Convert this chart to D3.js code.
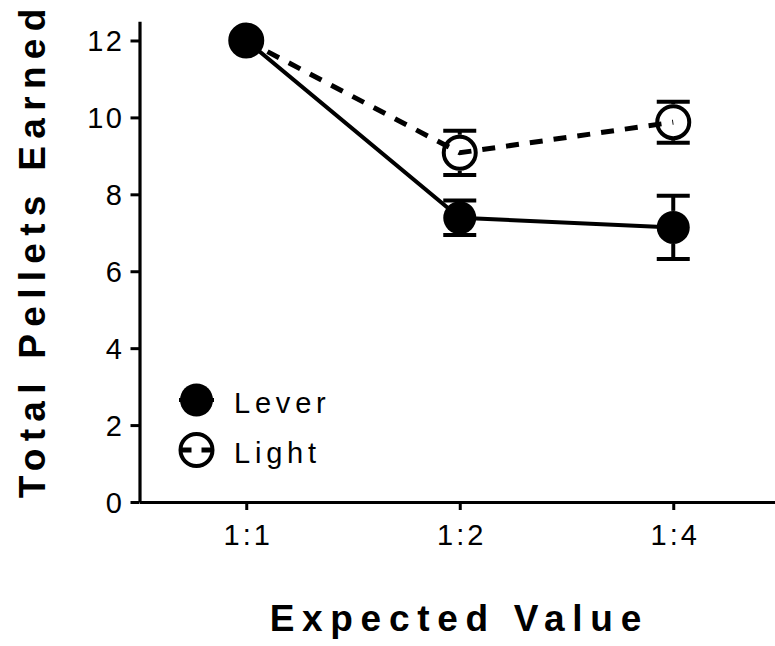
<!DOCTYPE html>
<html>
<head>
<meta charset="utf-8">
<script src="https://cdn.jsdelivr.net/npm/d3@7"></script>
<style>
  html, body { margin: 0; padding: 0; background: #fff; }
  svg { display: block; }
  text { font-family: "Liberation Sans", Arial, sans-serif; fill: #000; }
</style>
</head>
<body>
<svg id="chart" width="775" height="646"></svg>
<script>
const categories = ["1:1", "1:2", "1:4"];
const leverMean = [12, 7.39, 7.14];
const leverSem = [0, 0.45, 0.82];
const lightMean = [12, 9.08, 9.875];
const lightSem = [0, 0.575, 0.535];
const yTicks = [0, 2, 4, 6, 8, 10, 12];
const seriesNames = ["Lever", "Light"];
const xTitle = "Expected Value";
const yTitle = "Total Pellets Earned";

const svg = d3.select("#chart");
const pLeft = 139.5, pRight = 780, pTop = 21.25, pBottom = 502;

const x = d3.scalePoint().domain(categories).range([pLeft, pRight]).padding(0.5);
const y = d3.scaleLinear().domain([0, 12.5]).range([pBottom, pTop]);

// Y axis
const yAxis = svg.append("g")
  .attr("transform", `translate(${pLeft},0)`)
  .call(d3.axisLeft(y).tickValues(yTicks).tickSize(9).tickSizeOuter(0).tickPadding(6));
yAxis.select(".domain").attr("stroke", "#000").attr("stroke-width", 3.2);
yAxis.selectAll(".tick line").attr("stroke", "#000").attr("stroke-width", 3);
yAxis.selectAll(".tick text")
  .attr("font-size", 29).attr("letter-spacing", 2.5).attr("dy", "0.36em")
  .attr("x", -15);

// X axis
const xAxis = svg.append("g")
  .attr("transform", `translate(0,${pBottom})`)
  .call(d3.axisBottom(x).tickSize(8).tickSizeOuter(0).tickPadding(14));
xAxis.select(".domain").attr("stroke", "#000").attr("stroke-width", 3.2);
xAxis.selectAll(".tick line").attr("stroke", "#000").attr("stroke-width", 3);
xAxis.selectAll(".tick text")
  .attr("font-size", 29).attr("letter-spacing", 3).attr("dy", "0.71em")
  .attr("dx", 1.5);

// Titles
svg.append("text")
  .attr("x", 455.5 + 3.8).attr("y", 631)
  .attr("text-anchor", "middle")
  .attr("font-size", 37).attr("font-weight", "bold").attr("letter-spacing", 7.7)
  .text(xTitle);
svg.append("text")
  .attr("transform", "translate(45,253.5) rotate(-90)")
  .attr("x", 3.6)
  .attr("text-anchor", "middle")
  .attr("font-size", 37).attr("font-weight", "bold").attr("letter-spacing", 7.3)
  .text(yTitle);

const rFill = 16.5, rOpen = 16, capHalf = 16.5;

function errorBars(means, sems, r) {
  const g = svg.append("g").attr("stroke", "#000").attr("stroke-width", 4);
  means.forEach((m, i) => {
    if (sems[i] <= 0) return;
    const cx = x(categories[i]);
    const yt = y(m + sems[i]), yb = y(m - sems[i]), yc = y(m);
    if (yc - r > yt) g.append("line").attr("x1", cx).attr("x2", cx).attr("y1", yt).attr("y2", yc - r);
    if (yc + r < yb) g.append("line").attr("x1", cx).attr("x2", cx).attr("y1", yc + r).attr("y2", yb);
    g.append("line").attr("x1", cx - capHalf).attr("x2", cx + capHalf).attr("y1", yt).attr("y2", yt);
    g.append("line").attr("x1", cx - capHalf).attr("x2", cx + capHalf).attr("y1", yb).attr("y2", yb);
  });
}
errorBars(leverMean, leverSem, rFill);
errorBars(lightMean, lightSem, rOpen + 2);

const line = d3.line().x((d, i) => x(categories[i])).y(d => y(d));
svg.append("path").datum(lightMean).attr("d", line)
  .attr("fill", "none").attr("stroke", "#000").attr("stroke-width", 5)
  .attr("stroke-dasharray", "13,11");
svg.append("path").datum(leverMean).attr("d", line)
  .attr("fill", "none").attr("stroke", "#000").attr("stroke-width", 4);

svg.append("g").selectAll("circle").data(lightMean).join("circle")
  .attr("cx", (d, i) => x(categories[i])).attr("cy", d => y(d)).attr("r", rOpen)
  .attr("fill", "none").attr("stroke", "#000").attr("stroke-width", 4);
svg.append("g").selectAll("circle").data(leverMean).join("circle")
  .attr("cx", (d, i) => x(categories[i])).attr("cy", d => y(d)).attr("r", rFill)
  .attr("fill", "#000");

// Legend
const legX = 196.5, legY = [400, 450];
const leg = svg.append("g");
leg.append("line").attr("x1", legX - 17.5).attr("x2", legX + 17.5).attr("y1", legY[0]).attr("y2", legY[0])
  .attr("stroke", "#000").attr("stroke-width", 4);
leg.append("circle").attr("cx", legX).attr("cy", legY[0]).attr("r", rFill).attr("fill", "#000");
leg.append("line").attr("x1", legX - 16).attr("x2", legX + 16).attr("y1", legY[1]).attr("y2", legY[1])
  .attr("stroke", "#000").attr("stroke-width", 5).attr("stroke-dasharray", "11,10");
leg.append("circle").attr("cx", legX).attr("cy", legY[1]).attr("r", rOpen)
  .attr("fill", "none").attr("stroke", "#000").attr("stroke-width", 4);
seriesNames.forEach((n, i) => {
  leg.append("text").attr("x", 234).attr("y", legY[i] + 13)
    .attr("font-size", 29).attr("letter-spacing", 4.8).text(n);
});
</script>
</body>
</html>
